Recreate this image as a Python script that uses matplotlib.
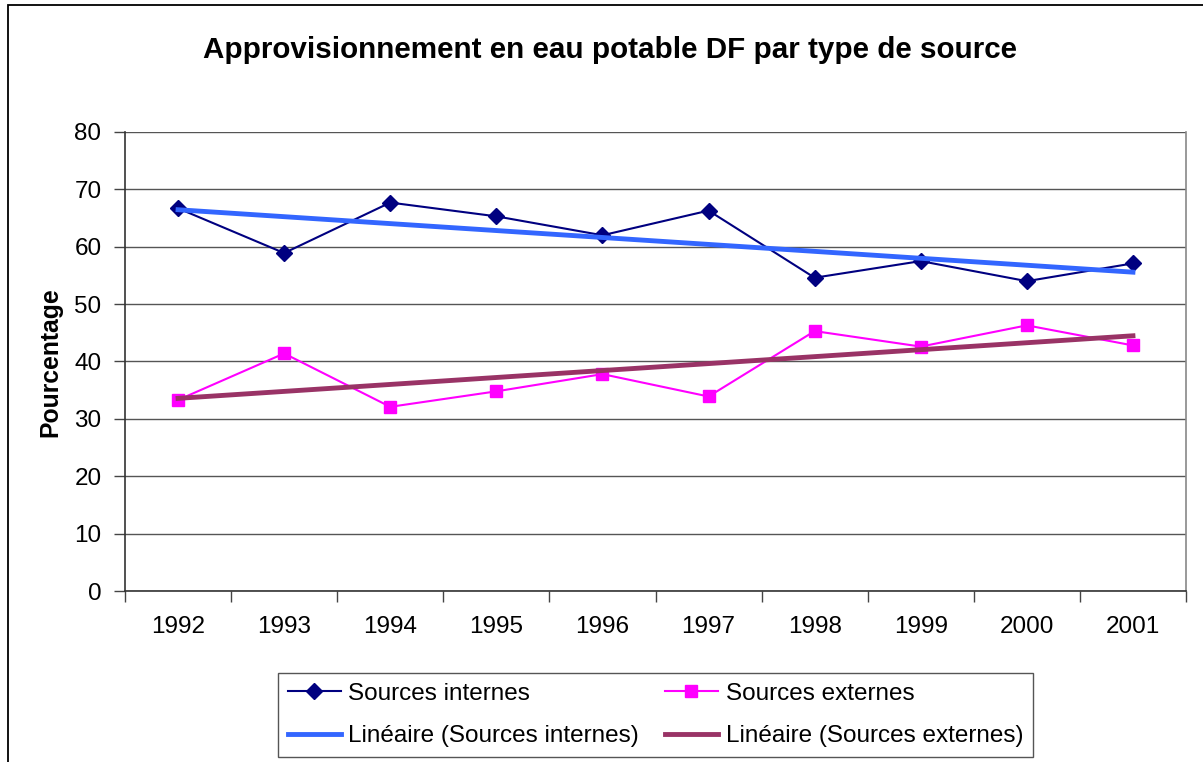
import numpy as np
import matplotlib
matplotlib.use("Agg")
import matplotlib.pyplot as plt
from matplotlib.patches import Rectangle

years = ["1992", "1993", "1994", "1995", "1996", "1997", "1998", "1999", "2000", "2001"]
internes = [66.7, 58.9, 67.7, 65.3, 62.0, 66.3, 54.6, 57.5, 54.0, 57.1]
externes = [33.3, 41.4, 32.1, 34.8, 37.8, 33.9, 45.3, 42.6, 46.3, 42.8]
yticks = [0, 10, 20, 30, 40, 50, 60, 70, 80]

title = "Approvisionnement en eau potable DF par type de source"
ylabel = "Pourcentage"
lab_int = "Sources internes"
lab_ext = "Sources externes"
lab_lint = "Linéaire (Sources internes)"
lab_lext = "Linéaire (Sources externes)"

plt.rcParams['font.family'] = ['Liberation Sans', 'DejaVu Sans']

W, H = 1203, 762
fig = plt.figure(figsize=(W / 100, H / 100), dpi=100)
fig.patch.set_facecolor("white")

# outer chart frame (extends past right and bottom edges)
fig.add_artist(Rectangle((7.5 / W, -0.05), 1.1, 1.05 - 4.5 / H,
                         transform=fig.transFigure, fill=False,
                         edgecolor="black", lw=1.3))

ax = fig.add_axes([125 / W, (H - 591) / H, (1186 - 125) / W, (591 - 132) / H])
x = np.arange(len(years))

ax.set_xlim(-0.5, len(years) - 0.5)
ax.set_ylim(0, 80)
ax.set_yticks(yticks)
ax.set_yticklabels([str(v) for v in yticks])
ax.grid(axis="y", color="#555555", lw=1.0)
ax.set_axisbelow(True)

ax.set_xticks(x)
ax.set_xticklabels(years)
ax.set_xticks(np.arange(-0.5, len(years)), minor=True)
ax.tick_params(axis="x", which="major", length=0, pad=18, labelsize=17.5)
ax.tick_params(axis="x", which="minor", length=8, width=1, color="#444444")
ax.tick_params(axis="y", length=8, width=1, color="#444444", pad=9, labelsize=17.5)

for s in ["left", "bottom"]:
    ax.spines[s].set_color("#333333")
    ax.spines[s].set_linewidth(1.2)
ax.spines["right"].set_color("#888888")
ax.spines["right"].set_linewidth(1.2)
ax.spines["top"].set_visible(False)

l1, = ax.plot(x, internes, color="#000080", lw=1.5, marker="D", ms=8,
              mfc="#000080", mec="#000080", label=lab_int, zorder=3)
l2, = ax.plot(x, externes, color="#FF00FF", lw=1.5, marker="s", ms=8,
              mfc="#FF00FF", mec="#FF00FF", label=lab_ext, zorder=3)

pi = np.polyfit(x, internes, 1)
pe = np.polyfit(x, externes, 1)
l3, = ax.plot(x, np.polyval(pi, x), color="#3366FF", lw=3.5, label=lab_lint, zorder=4)
l4, = ax.plot(x, np.polyval(pe, x), color="#993366", lw=3.5, label=lab_lext, zorder=4)

fig.text(610 / W, 1 - 50 / H, title, ha="center", va="center",
         fontsize=21.3, fontweight="bold")
fig.text(50 / W, 1 - 362 / H, ylabel, ha="center", va="center",
         rotation=90, fontsize=17.8, fontweight="bold")

leg = fig.legend([l1, l3, l2, l4], [lab_int, lab_lint, lab_ext, lab_lext],
                 ncol=2, loc="upper left",
                 bbox_to_anchor=(278 / W, 1 - 673 / H),
                 bbox_transform=fig.transFigure,
                 fontsize=17.5, frameon=True, fancybox=False, framealpha=1,
                 edgecolor="#555555", handlelength=2.2, handletextpad=0.3,
                 columnspacing=1.05, borderpad=0.4, labelspacing=0.85,
                 borderaxespad=0)
leg.get_frame().set_linewidth(1.0)

fig.savefig("out.png", dpi=100, facecolor="white")
